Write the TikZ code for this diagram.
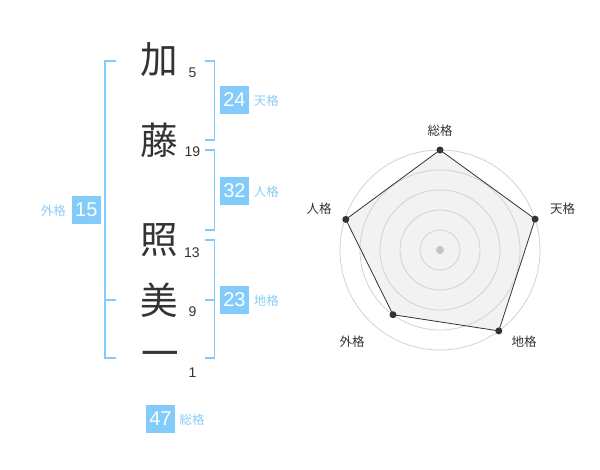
\documentclass[tikz,border=0pt]{standalone}
\usepackage{fontspec}
\setmainfont{Liberation Sans}
\newfontfamily\jp{Noto Sans CJK JP}
\definecolor{bluebox}{HTML}{82CBFA}
\definecolor{bluelab}{HTML}{8ACDF5}
\definecolor{ink}{HTML}{333333}
\definecolor{ringgray}{HTML}{D2D2D2}
\definecolor{fillgray}{HTML}{F2F2F2}
\definecolor{dotgray}{HTML}{C4C4C4}
\begin{document}
\begin{tikzpicture}[x=1pt,y=-1pt,
  kanji/.style={font=\jp\fontsize{37.5}{37.5}\selectfont, text=ink, inner sep=0},
  strokes/.style={font=\fontsize{14}{14}\selectfont, text=ink, inner sep=0},
  scorebox/.style={fill=bluebox, text=white, minimum width=28.5, minimum height=28.5, inner sep=0, font=\fontsize{20}{20}\selectfont},
  scorelab/.style={text=bluelab, font=\jp\fontsize{12.5}{12.5}\selectfont, inner sep=0},
  bracket/.style={draw=bluebox, line width=1.8},
  radarlab/.style={text=ink, font=\jp\fontsize{12.5}{12.5}\selectfont, inner sep=0},
  ring/.style={draw=ringgray, line width=0.8},
  vdot/.style={circle, fill=ink, inner sep=0, minimum size=7}
]
\useasboundingbox (0,0) rectangle (600,470);
% kanji
\node[kanji] (k1) at (159.5,60) {加};
\node[kanji] (k2) at (159.5,140.5) {藤};
\node[kanji] (k3) at (159.5,240) {照};
\node[kanji] (k4) at (159.5,300) {美};
\node[kanji] (k5) at (160,359) {一};
% stroke counts
\node[strokes] (s1) at (192.5,73) {5};
\node[strokes] (s2) at (192.5,151.5) {19};
\node[strokes] (s3) at (192,253) {13};
\node[strokes] (s4) at (192.5,312) {9};
\node[strokes] (s5) at (192.5,373) {1};
% brackets
\draw[bracket] (115.5,60.7) -- (105,60.7) -- (105,358.3) -- (115.5,358.3);
\draw[bracket] (105,300) -- (115.5,300);
\draw[bracket] (205,60.7) -- (214.5,60.7) -- (214.5,140) -- (205,140);
\draw[bracket] (205,150) -- (214.5,150) -- (214.5,230) -- (205,230);
\draw[bracket] (205,240) -- (214.5,240) -- (214.5,358.3) -- (205,358.3);
\draw[bracket] (205,300) -- (214.5,300);
% scores
\node[scorebox] (b1) at (234.5,100) {24};
\node[scorelab] (l1) at (266.3,101) {天格};
\node[scorebox] (b2) at (234.5,191) {32};
\node[scorelab] (l2) at (266.3,192) {人格};
\node[scorebox] (b3) at (234.5,300) {23};
\node[scorelab] (l3) at (266.3,301) {地格};
\node[scorebox] (b4) at (86.3,210) {15};
\node[scorelab] (l4) at (53.3,211) {外格};
\node[scorebox] (b5) at (160.5,419) {47};
\node[scorelab] (l5) at (192,420) {総格};
% radar
\coordinate (c) at (440,250);
\coordinate (p1) at (440,150);
\coordinate (p2) at (535.1,219.1);
\coordinate (p3) at (498.8,330.9);
\coordinate (p4) at (393.0,314.7);
\coordinate (p5) at (345.8,219.4);
\fill[fillgray] (p1) -- (p2) -- (p3) -- (p4) -- (p5) -- cycle;
\foreach \r in {20,40,60,80,100} \draw[ring] (c) circle[radius=\r];
\fill[dotgray] (c) circle[radius=4];
\draw[ink, line width=0.8] (p1) -- (p2) -- (p3) -- (p4) -- (p5) -- cycle;
\node[vdot] (v1) at (p1) {};
\node[vdot] (v2) at (p2) {};
\node[vdot] (v3) at (p3) {};
\node[vdot] (v4) at (p4) {};
\node[vdot] (v5) at (p5) {};
\node[radarlab] (r1) at (440,130.5) {総格};
\node[radarlab] (r2) at (562.5,208.5) {天格};
\node[radarlab] (r3) at (524,342) {地格};
\node[radarlab] (r4) at (352,342) {外格};
\node[radarlab] (r5) at (319,208.5) {人格};
\end{tikzpicture}
\end{document}
